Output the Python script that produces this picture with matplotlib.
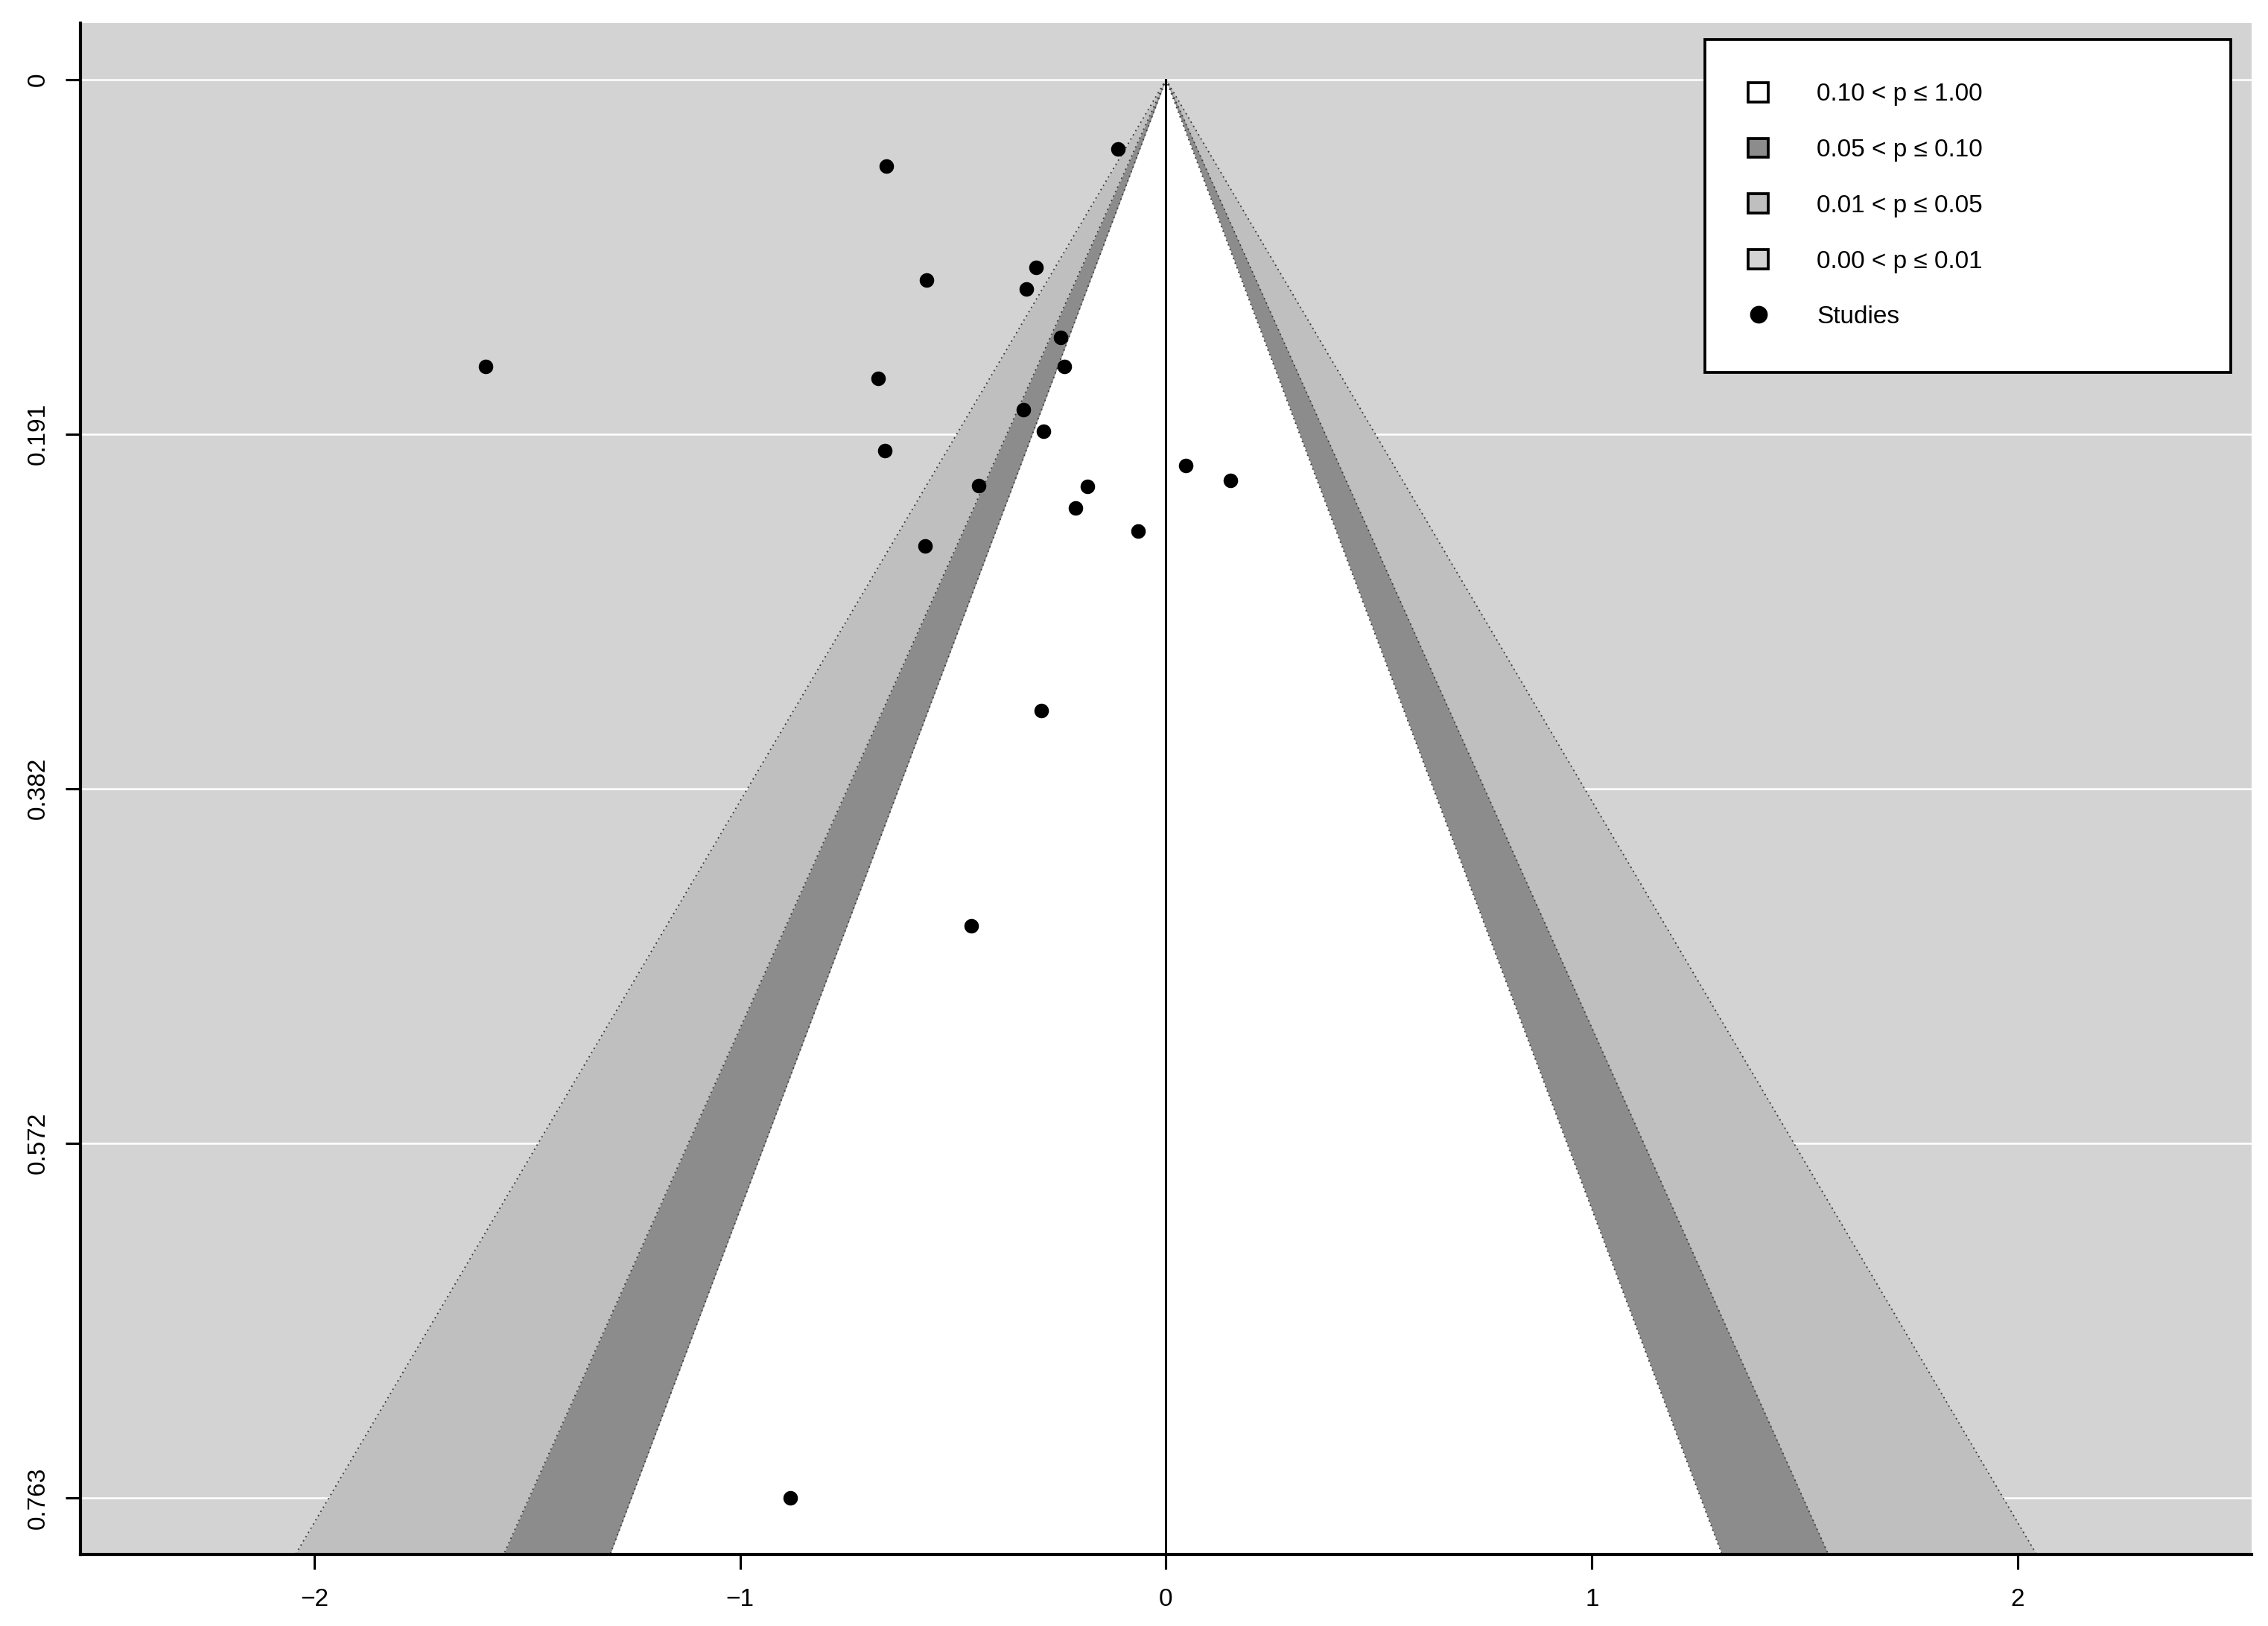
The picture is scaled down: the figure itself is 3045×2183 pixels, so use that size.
import numpy as np
import matplotlib
matplotlib.use("Agg")
import matplotlib.pyplot as plt
from matplotlib.patches import Patch
from matplotlib.lines import Line2D

plt.rcParams['font.family'] = ['Liberation Sans', 'DejaVu Sans']

# ---- data ----
effect = [-0.112, -0.656, -0.305, -0.562, -0.328, -0.247, -0.238, -0.676, -0.335,
          -0.287, -0.660, 0.046, 0.152, -0.440, -0.184, -0.213, -0.066, -0.565,
          -1.597, -0.293, -0.457, -0.883]
std_err = [0.0373, 0.0464, 0.1012, 0.1079, 0.1125, 0.1386, 0.1542, 0.1607, 0.1777,
           0.1894, 0.1996, 0.2076, 0.2158, 0.2184, 0.2188, 0.2304, 0.2428, 0.2511,
           0.1543, 0.3395, 0.4553, 0.763]
ytick_vals = [0.0, 0.19075, 0.3815, 0.57225, 0.763]
ytick_labels = ["0", "0.191", "0.382", "0.572", "0.763"]
xtick_vals = [-2, -1, 0, 1, 2]
z_levels = [2.576, 1.96, 1.645]          # 99%, 95%, 90%
shades = ["#BFBFBF", "#8C8C8C", "#FFFFFF"]
legend_labels = ["0.10 < p \u2264 1.00", "0.05 < p \u2264 0.10",
                 "0.01 < p \u2264 0.05", "0.00 < p \u2264 0.01", "Studies"]
legend_colors = ["#FFFFFF", "#8C8C8C", "#BFBFBF", "#D3D3D3"]

ymax = 0.763
ylo, yhi = -0.04 * ymax, ymax * 1.04
xlim = (-2.549, 2.549)

fig = plt.figure(figsize=(10.15, 7.2767), dpi=300)
ax = fig.add_axes([0.03547, 0.04398, 0.9573, 0.9420])
ax.set_facecolor("#D3D3D3")

# grid lines
for yv in ytick_vals:
    ax.axhline(yv, color="white", lw=0.6, zorder=0.5)

# contour regions
yy = np.array([0.0, yhi])
for z, c in zip(z_levels, shades):
    ax.fill_betweenx(yy, -z * yy, z * yy, color=c, lw=0, zorder=1)
for z in z_levels:
    ax.plot(-z * yy, yy, ls=(0, (1, 2.5)), color="#3a3a3a", lw=0.45, zorder=1.5)
    ax.plot(z * yy, yy, ls=(0, (1, 2.5)), color="#3a3a3a", lw=0.45, zorder=1.5)

# reference line
ax.plot([0, 0], [0, yhi], color="black", lw=0.7, zorder=2)

# studies
ax.scatter(effect, std_err, s=22, color="black", zorder=3, linewidths=0)

ax.set_xlim(*xlim)
ax.set_ylim(yhi, ylo)
ax.set_xticks(xtick_vals)
ax.set_xticklabels(["\u22122", "\u22121", "0", "1", "2"])
ax.set_yticks(ytick_vals)
ax.set_yticklabels(ytick_labels, rotation=90, va="center")
ax.tick_params(axis="both", direction="out", length=4.8, width=0.75, labelsize=8,
               pad=6, colors="black")
ax.tick_params(axis="y", pad=5)
for s in ["top", "right"]:
    ax.spines[s].set_visible(False)
for s in ["left", "bottom"]:
    ax.spines[s].set_linewidth(1.0)
    ax.spines[s].set_color("black")

handles = [Patch(facecolor=c, edgecolor="black", linewidth=0.9) for c in legend_colors]
handles.append(Line2D([], [], marker="o", color="black", ls="none", markersize=4.7))
leg = ax.legend(handles, legend_labels, loc="upper left",
                bbox_to_anchor=(0.7482, 0.7723, 0.2422, 0.217), mode="expand",
                borderaxespad=0, fontsize=8, frameon=True, fancybox=False,
                framealpha=1, edgecolor="black", handlelength=0.81,
                handleheight=0.81, handletextpad=1.94, borderpad=1.75,
                labelspacing=1.3)
leg.get_frame().set_linewidth(0.9)
leg.set_zorder(5)

fig.savefig("out.png", dpi=300)
